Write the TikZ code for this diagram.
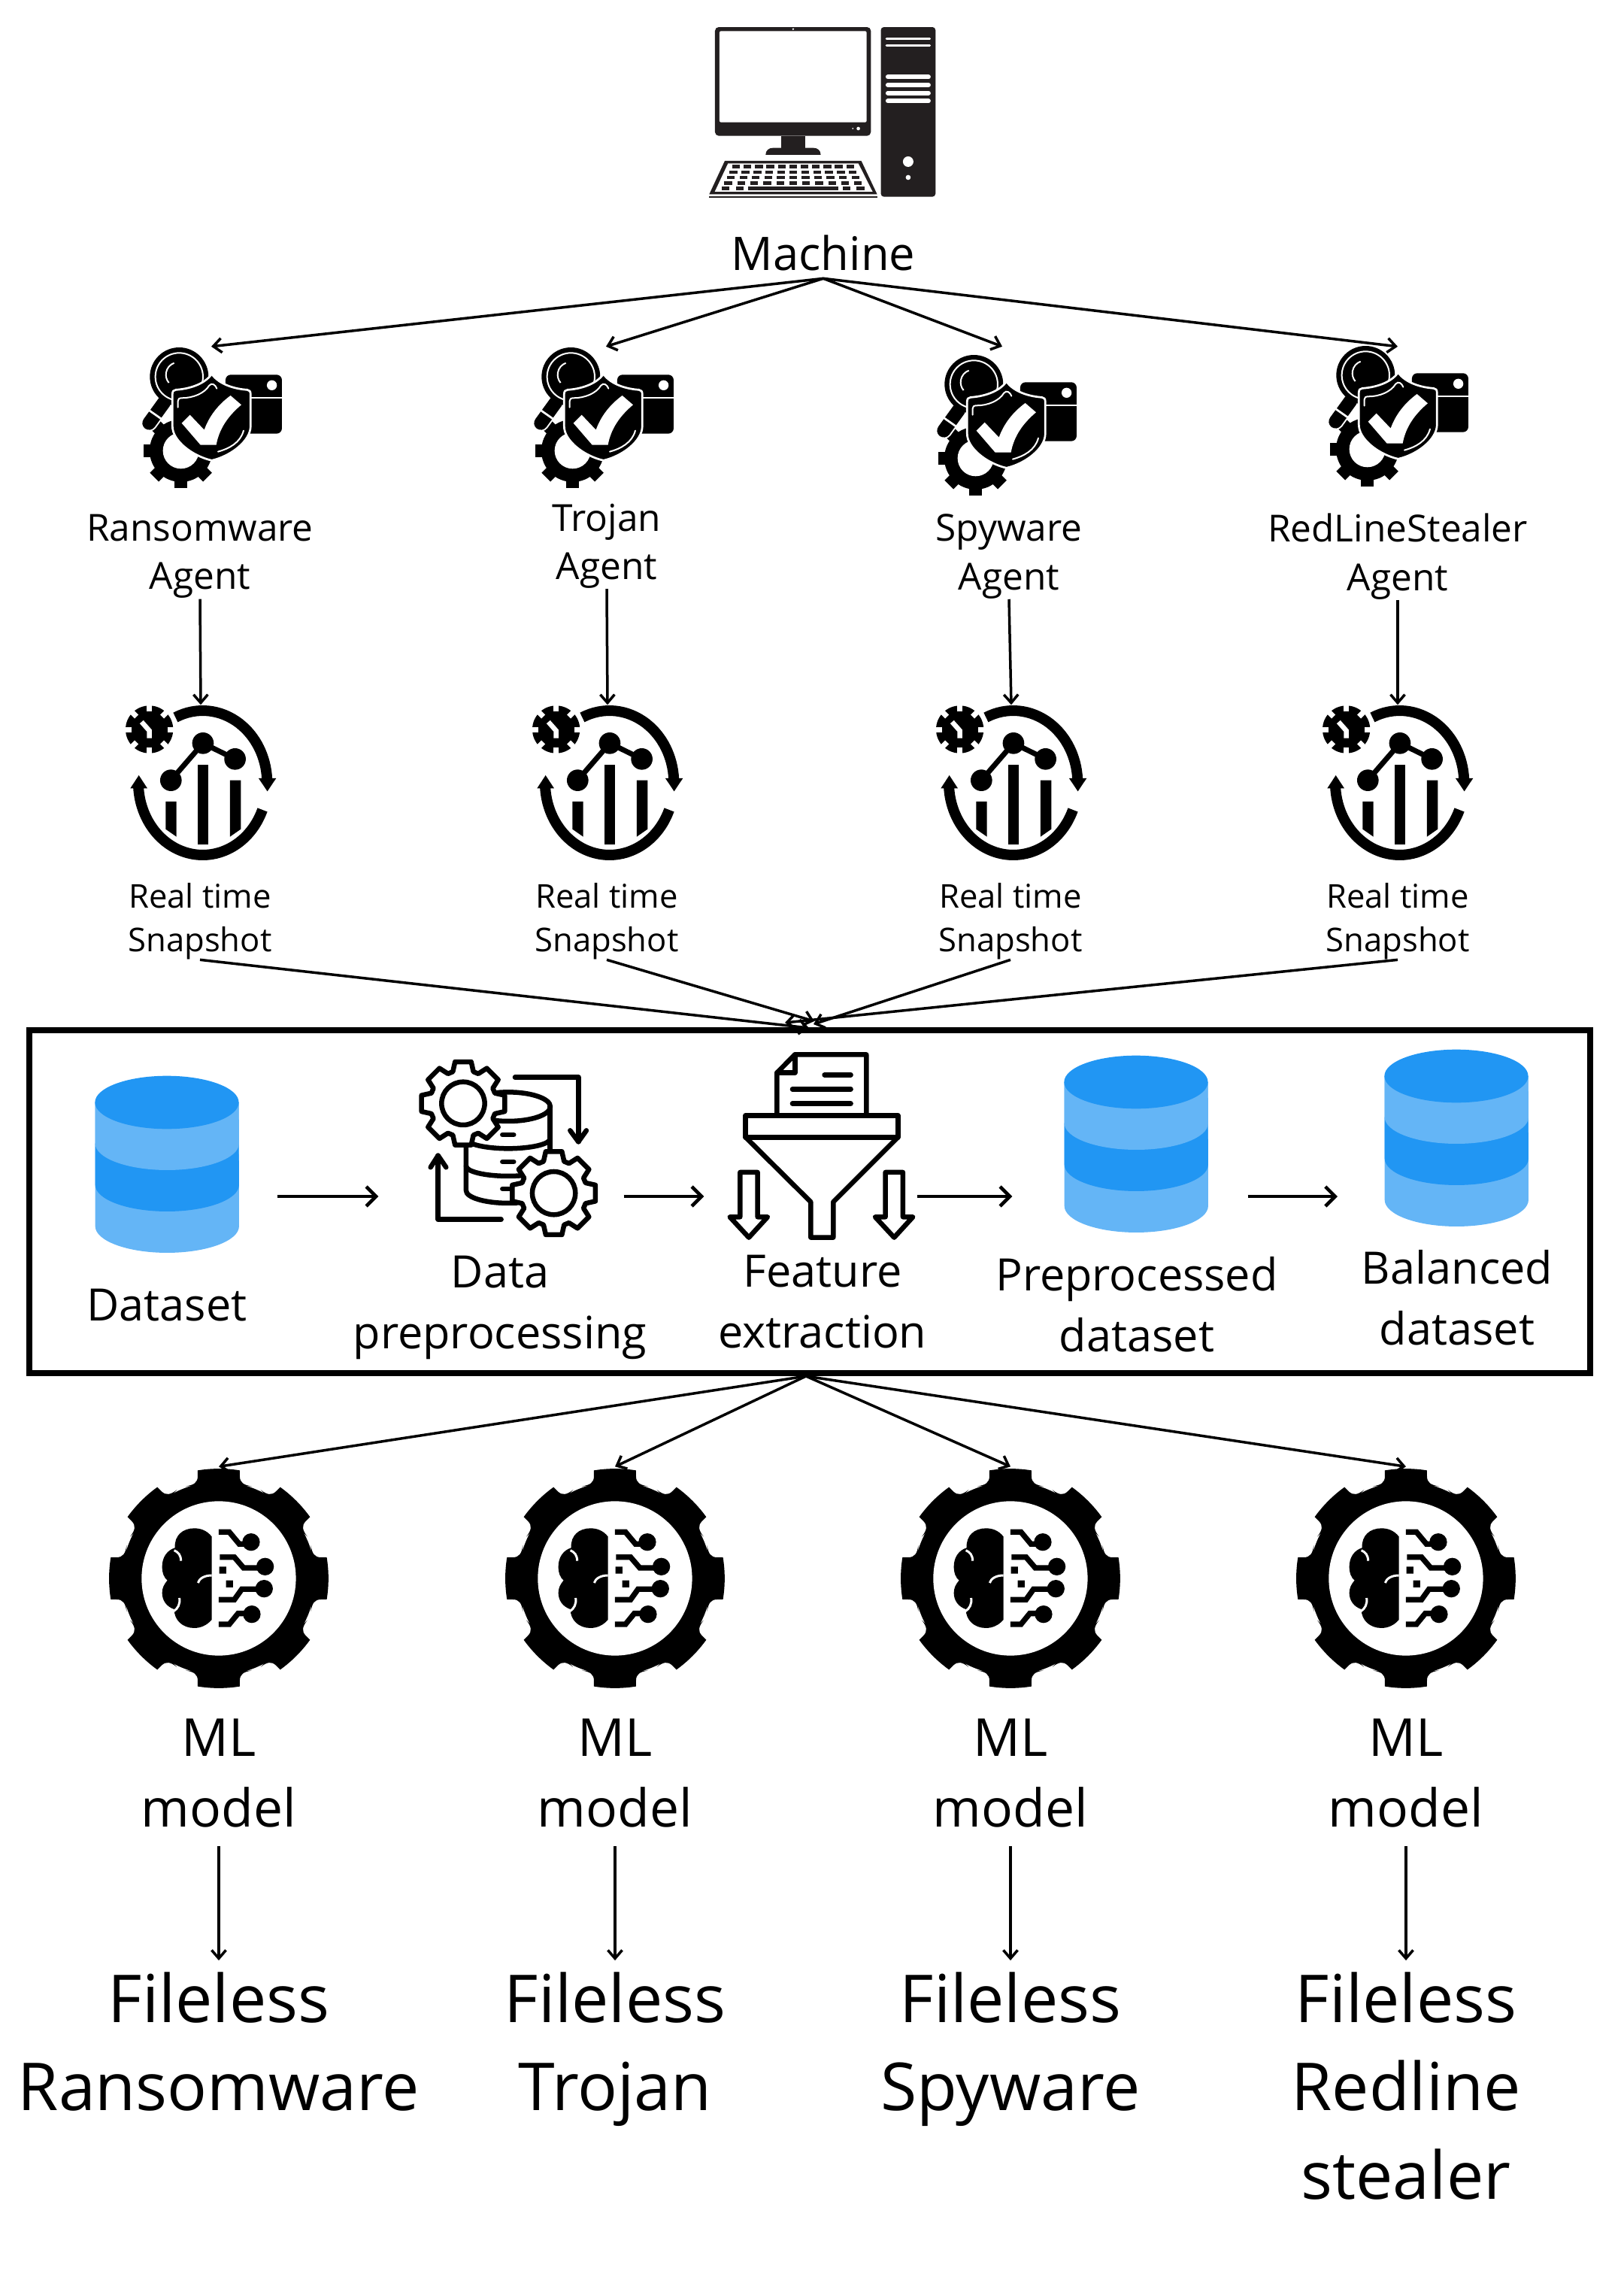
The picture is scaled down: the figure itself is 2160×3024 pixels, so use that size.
\documentclass[tikz,border=0pt]{standalone}
\usepackage{fontspec}
\setmainfont{Open Sans}
\usetikzlibrary{positioning, arrows.meta, calc}
\definecolor{cyldark}{RGB}{33,150,243}
\definecolor{cyllight}{RGB}{100,181,246}
\definecolor{machinegrey}{RGB}{35,31,32}
\tikzset{
  zoomed/.style={x=0.03333mm, y=-0.03333mm},
  icoline/.style={line width=0.65mm, line join=round, line cap=round},
  machinepic/.pic={
    \begin{scope}[zoomed, machinegrey]
      \fill[rounded corners=0.5mm] (153,108) rectangle (775,542);
      \fill[white, rounded corners=0.2mm] (171,124) rectangle (758,488);
      \fill[white] (465,116) circle (4) (725,513) circle (7) (703,513) circle (3);
      \fill (418,542) rectangle (512,595);
      \fill (355,618) .. controls (355,600) and (368,590) .. (385,590) -- (545,590)
            .. controls (562,590) and (575,600) .. (575,618) -- cycle;
      \fill (192,642) -- (737,642) -- (800,775) -- (130,775) -- cycle;
      \fill[white] (205,652) -- (725,652) -- (782,765) -- (152,765) -- cycle;
      \fill (130,782) rectangle (800,790);
      \foreach \r in {0,...,3} {
        \foreach \c in {0,...,10} {
          \fill ({222-10.5*\r+\c*(45.5+2.1*\r)},{658+21.7*\r}) rectangle ++(31,14); } }
      \foreach \kx in {180,237,662,718} { \fill (\kx,745) rectangle ++(31,14); }
      \fill (285,745) rectangle (645,759);
      \fill[rounded corners=0.4mm] (815,108) rectangle (1033,785);
      \foreach \ky in {155,181} {
        \draw[white, line width=0.33mm, line cap=round] (838,\ky) -- (1010,\ky); }
      \foreach \ky in {307,339,371,403} {
        \draw[white, line width=0.6mm, line cap=round] (843,\ky) -- (1005,\ky); }
      \fill[white] (924,645) circle (21) (924,708) circle (10);
    \end{scope}
  },
  agentpic/.pic={
    \begin{scope}[zoomed]
      % gear behind the shield
      \begin{scope}[shift={(272,478)}]
        \fill (0,0) circle (125);
        \foreach \a in {0,45,...,315} {
          \fill[rotate=\a] (-25,-150) rectangle (25,-100); }
        \fill[white] (0,0) circle (72);
      \end{scope}
      % magnifier
      \draw[white, line width=2.2mm, line cap=round] (205,285) -- (145,368);
      \draw[line width=1.8mm, line cap=round] (205,285) -- (145,368);
      \draw[white, line width=0.27mm] (138,312) -- (195,352);
      \fill (265,183) circle (117);
      \draw[white, line width=0.2mm] (265,183) circle (95);
      \draw[white, line width=0.2mm] (245,128) arc[start angle=250, end angle=140, radius=50];
      % window
      \fill[rounded corners=0.7mm] (450,175) rectangle (675,410);
      \draw[white, line width=0.2mm] (550,268) -- (675,268);
      \fill[white] (635,217) circle (20);
      % shield
      \filldraw[draw=white, line width=0.27mm]
        (395,172) .. controls (365,215) and (300,232) .. (252,235)
        .. controls (243,235) and (238,242) .. (238,252) -- (238,380)
        .. controls (238,440) and (320,500) .. (395,517)
        .. controls (470,500) and (550,440) .. (550,380) -- (550,252)
        .. controls (550,242) and (545,235) .. (536,235)
        .. controls (490,232) and (425,215) .. (395,172) -- cycle;
      \fill[white] (275,368) -- (308,335) -- (365,395)
        .. controls (385,340) and (420,295) .. (470,258) -- (513,295)
        .. controls (460,340) and (425,390) .. (413,455) -- (350,455) -- cycle;
      \draw[white, line width=0.2mm, line cap=round]
        (260,305) -- (260,280) .. controls (260,272) and (265,268) .. (275,268)
        .. controls (320,268) and (365,250) .. (385,218)
        .. controls (395,205) and (410,215) .. (415,230);
      \draw[white, line width=0.2mm, line cap=round]
        (420,482) .. controls (465,470) and (510,445) .. (522,398);
    \end{scope}
  },
  snappic/.pic={
    \begin{scope}[zoomed]
      \draw[line width=1.4mm] (389,363) ++(-115:257 and 288)
        arc[start angle=-115, end angle=-3, x radius=257, y radius=288];
      \draw[line width=1.4mm] (389,363) ++(22:257 and 288)
        arc[start angle=22, end angle=176, x radius=257, y radius=288];
      \fill (612,345) -- (682,345) -- (647,397) -- cycle;
      \fill (100,385) -- (168,385) -- (134,333) -- cycle;
      % clock gear
      \begin{scope}[shift={(176,150)}]
        \fill (0,0) circle (95);
        \foreach \a in {0,45,...,315} {
          \draw[white, line width=0.7mm] (\a:72) -- (\a:100); }
      \end{scope}
      \draw[white, line width=0.65mm] (145,120) -- (176,155) -- (176,185);
      % plot
      \draw[line width=0.7mm] (262,353) -- (390,205) -- (518,268);
      \fill (262,353) circle (43) (390,205) circle (43) (518,268) circle (43);
      \fill (241,438) -- (284,438) -- (284,578) -- (241,548) -- cycle;
      \fill (370,290) rectangle (412,608);
      \fill (498,353) -- (541,353) -- (541,548) -- (498,578) -- cycle;
    \end{scope}
  },
  cylpic/.pic={
    \begin{scope}[zoomed]
      \fill[cyllight] (80,168) -- (80,662) arc[start angle=180, end angle=0, x radius=287, y radius=106] -- (653,168) -- cycle;
      \fill[cyldark] (80,332) -- (80,497) arc[start angle=180, end angle=0, x radius=287, y radius=106] -- (653,332) -- cycle;
      \fill[cyllight] (80,168) -- (80,332) arc[start angle=180, end angle=0, x radius=287, y radius=106] -- (653,168) -- cycle;
      \fill[cyldark] (366,168) ellipse[x radius=287, y radius=106];
    \end{scope}
  },
  preppic/.pic={
    \begin{scope}[zoomed, icoline]
      % drum
      \draw (408,245) ellipse[x radius=168, y radius=58];
      \draw (240,300) -- (240,580) arc[start angle=180, end angle=90, x radius=168, y radius=50] -- (440,630);
      \draw (575,245) -- (575,425);
      \draw (240,372) arc[start angle=180, end angle=0, x radius=168, y radius=40];
      \draw (240,482) arc[start angle=180, end angle=0, x radius=168, y radius=40];
      \draw (385,357) -- (430,357) (385,465) -- (430,465) (385,573) -- (425,573);
      % cogs
      \foreach \cx/\cy in {228/232, 590/590} {
        \begin{scope}[shift={(\cx,\cy)}]
          \filldraw[fill=white] (-11:169) \foreach \a in {0,45,...,315} {
            -- ({\a-11}:169) -- ({\a+11}:169) -- ({\a+18}:133) -- ({\a+27}:133) } -- cycle;
          \draw (0,0) circle (86);
        \end{scope}
      }
      % turn arrows
      \draw (435,128) -- (688,128) -- (688,385);
      \draw (655,340) -- (688,385) -- (720,340);
      \draw (380,695) -- (128,695) -- (128,440);
      \draw (98,487) -- (128,440) -- (160,487);
    \end{scope}
  },
  funnelpic/.pic={
    \begin{scope}[zoomed, icoline]
      \draw (250,295) -- (250,125) -- (322,52) -- (607,52) -- (607,295);
      \draw (322,52) -- (322,125) -- (250,125);
      \draw (440,133) -- (545,133) (312,190) -- (545,190) (312,248) -- (545,248);
      \draw (125,295) rectangle (733,382);
      \draw (125,382) -- (385,640) -- (385,782) -- (475,782) -- (475,640) -- (733,382);
      \foreach \dx in {0,580} {
        \draw[xshift=\dx*0.03333mm] (103,522) -- (173,522) -- (173,700) -- (213,700) -- (138,782)
          -- (62,700) -- (103,700) -- cycle; }
    \end{scope}
  },
  mlpic/.pic={
    \begin{scope}[zoomed]
      \begin{scope}[shift={(483,447)}]
        \fill (0,0) circle (385);
        \foreach \a in {0,45,...,315} {
          \fill[rotate=\a] (-84,-431) .. controls (-28,-440) and (28,-440) .. (84,-431) -- (84,-408)
            .. controls (84,-382) and (100,-372) .. (132,-368) -- (-132,-368)
            .. controls (-100,-372) and (-84,-382) .. (-84,-408) -- cycle; }
        \fill[white] (0,0) circle (308);
      \end{scope}
      % brain
      \fill (455,280) .. controls (435,255) and (410,247) .. (385,247)
        .. controls (340,247) and (305,275) .. (308,325)
        .. controls (275,335) and (257,365) .. (257,400)
        .. controls (257,425) and (265,445) .. (278,455)
        .. controls (265,470) and (257,485) .. (257,505)
        .. controls (257,535) and (275,560) .. (305,570)
        .. controls (305,615) and (340,645) .. (385,645)
        .. controls (410,645) and (435,635) .. (455,612) -- cycle;
      \draw[white, line width=0.3mm] (305,335) .. controls (322,342) and (332,355) .. (332,377);
      \draw[white, line width=0.3mm] (400,465) .. controls (405,448) and (425,435) .. (455,435);
      \draw[white, line width=0.3mm] (326,525) .. controls (330,548) and (320,568) .. (303,578);
      % circuit
      \draw[line width=0.73mm] (483,262) -- (525,262) -- (565,310) -- (610,310);
      \draw[line width=0.73mm] (487,362) -- (545,362) -- (582,405) -- (665,405);
      \draw[line width=0.73mm] (483,532) -- (545,532) -- (575,490) -- (665,490);
      \draw[line width=0.73mm] (483,630) -- (525,630) -- (560,587) -- (615,587);
      \fill (612,302) circle (35) (668,400) circle (35) (664,488) circle (35) (615,590) circle (35);
      \fill (485,400) rectangle (513,428) (512,455) rectangle (540,483);
    \end{scope}
  }
}
\begin{document}
\begin{tikzpicture}[x=0.1mm, y=-0.1mm,
    lbl/.style={inner sep=0pt, align=center, text=black},
    hub/.style={lbl, font=\fontsize{17.5}{21}\selectfont, inner sep=1mm},
    agentlbl/.style={lbl, font=\fontsize{14.1}{18.3}\selectfont},
    snaplbl/.style={lbl, font=\fontsize{12.4}{16.4}\selectfont},
    steplbl/.style={lbl, font=\fontsize{16.9}{23}\selectfont},
    mllbl/.style={lbl, inner ysep=2.4mm, font=\fontsize{19.8}{26.8}\selectfont},
    outlbl/.style={lbl, anchor=north, inner ysep=1.5mm, font=\fontsize{25}{33.4}\selectfont},
    iconbox/.style={inner sep=0pt, minimum width=#1},
    link/.style={line width=0.35mm, -{Straight Barb[length=1.1mm, width=1.9mm]}},
    flow/.style={line width=0.45mm, -{Straight Barb[length=1.3mm, width=2.6mm]}}
  ]
  \useasboundingbox (0,0) rectangle (2160,3024);

  \pic at (900,0) {machinepic};
  \node[hub, anchor=base] (machine) at (1095,359) {Machine};

  % agents
  \foreach \i/\px/\py/\bx/\tx/\ty/\lab in {
      1/150/440/281/266/740/{Ransomware\\Agent},
      2/671/440/806/807/726/{Trojan\\Agent},
      3/1207/450/1333/1342/740/{Spyware\\Agent},
      4/1728/438/1859/1859/740/{RedLineStealer\\Agent}} {
    \pic at (\px,\py) {agentpic};
    \node[iconbox=18.8mm, minimum height=18.7mm] (agent\i) at (\bx,555) {};
    \node[agentlbl] (agentlbl\i) at (\tx,\ty) {\lab};
    \draw[link] (machine.south) -- (agent\i.north);
  }

  % snapshots
  \foreach \i/\px/\bx/\tx in {1/140/267/266, 2/681/808/807, 3/1218/1345/1344, 4/1732/1859/1859} {
    \pic at (\px,920) {snappic};
    \node[iconbox=20mm, minimum height=20.6mm] (snap\i) at (\bx,1041) {};
    \node[snaplbl] (snaplbl\i) at (\tx,1225) {Real time\\Snapshot};
    \draw[link] (agentlbl\i.south) -- (snap\i.north);
  }

  % pipeline box
  \node[draw, line width=0.8mm, inner sep=0pt, minimum width=207.6mm, minimum height=45.6mm]
    (pipeline) at (1077,1598) {};
  \coordinate (into1) at (1076,1367);
  \coordinate (into2) at (1083,1358);
  \coordinate (into3) at (1082,1362);
  \coordinate (into4) at (1044,1360);
  \foreach \i in {1,...,4} { \draw[link] (snaplbl\i.south) -- (into\i); }

  \pic at (100,1410) {cylpic};
  \pic at (540,1390) {preppic};
  \pic at (950,1385) {funnelpic};
  \pic at (1389,1383) {cylpic};
  \pic at (1815,1375) {cylpic};
  \node[iconbox=29.2mm, minimum height=10mm] (stepA) at (222,1591) {};
  \node[iconbox=32.5mm, minimum height=10mm] (stepB) at (666.5,1591) {};
  \node[iconbox=28.2mm, minimum height=10mm] (stepC) at (1078,1591) {};
  \node[iconbox=31.2mm, minimum height=10mm] (stepD) at (1503,1591) {};
  \node[iconbox=20mm, minimum height=10mm, anchor=west] (stepE) at (1779,1591) {};
  \draw[flow] (stepA.east) -- (stepB.west);
  \draw[flow] (stepB.east) -- (stepC.west);
  \draw[flow] (stepC.east) -- (stepD.west);
  \draw[flow] (stepD.east) -- (stepE.west);

  \node[steplbl] (lblA) at (222,1736) {Dataset};
  \node[steplbl] (lblB) at (665,1739) {Data\\preprocessing};
  \node[steplbl] (lblC) at (1094,1731) {Feature\\extraction};
  \node[steplbl] (lblD) at (1512,1735) {Preprocessed\\dataset};
  \node[steplbl] (lblE) at (1938,1726) {Balanced\\dataset};

  % models
  \foreach \i/\x/\lab in {
      1/291/{Fileless\\Ransomware},
      2/818/{Fileless\\Trojan},
      3/1344/{Fileless\\Spyware},
      4/1870/{Fileless\\Redline\\stealer}} {
    \pic at ({\x-161},1950) {mlpic};
    \node[iconbox=29.6mm, minimum height=29.6mm] (ml\i) at (\x,2099) {};
    \node[mllbl] (mllbl\i) at (\x,2358) {ML\\model};
    \node[outlbl] (out\i) at (\x,2607) {\lab};
    \draw[link] ([xshift=-0.5mm]pipeline.south) -- (ml\i.north);
    \draw[link] (mllbl\i.south) -- (out\i.north);
  }
\end{tikzpicture}
\end{document}
